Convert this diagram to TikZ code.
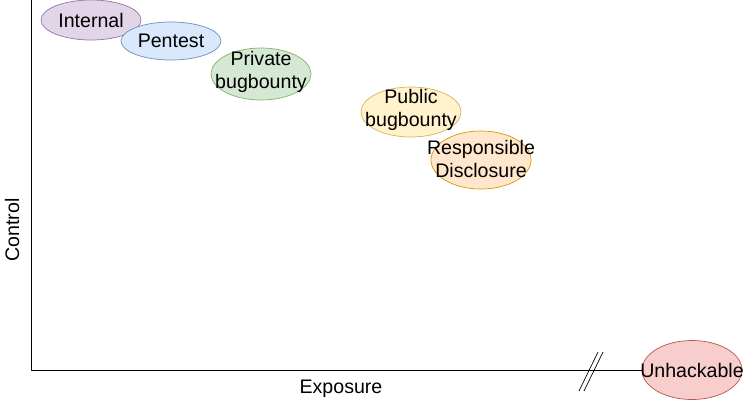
\documentclass[tikz,border=0pt]{standalone}
\usepackage{fontspec}
\setmainfont{Liberation Sans}
\usetikzlibrary{shapes.geometric}

\definecolor{intfill}{HTML}{E1D5E7}\definecolor{intline}{HTML}{9673A6}
\definecolor{penfill}{HTML}{DAE8FC}\definecolor{penline}{HTML}{6C8EBF}
\definecolor{privfill}{HTML}{D5E8D4}\definecolor{privline}{HTML}{82B366}
\definecolor{pubfill}{HTML}{FFF2CC}\definecolor{publine}{HTML}{D6B656}
\definecolor{respfill}{HTML}{FFE6CC}\definecolor{respline}{HTML}{D79B00}
\definecolor{unhfill}{HTML}{F8CECC}\definecolor{unhline}{HTML}{B85450}

\tikzset{
  blob/.style={ellipse, draw, line width=0.7pt, minimum width=100pt, inner sep=0pt},
  txt/.style={align=center, inner sep=0pt, font=\fontsize{19.6}{22.8}\selectfont}
}

\begin{document}
\begin{tikzpicture}[x=1pt, y=-1pt, line join=round]
\useasboundingbox (0,0) rectangle (744,402);

% axes
\coordinate (origin) at (31,370);
\coordinate (top) at (31,0);
\coordinate (right) at (692,370);
\draw[line width=0.8pt] (top) -- (origin) -- (right);

% axis break
\draw[line width=0.7pt] (579,391) -- (598,352);
\draw[line width=0.7pt] (584,391) -- (603,352);

\node (control) at (12,230) [txt, rotate=90] {Control};
\node (exposure) at (341,389) [txt] {Exposure};

% the programmes
\node (internal) at (91,20) [blob, fill=intfill, draw=intline, minimum height=40pt] {};
\node at (internal) [txt] {Internal};

\node (pentest) at (171,41) [blob, fill=penfill, draw=penline, minimum height=38pt] {};
\node at (pentest) [txt] {Pentest};

\node (private) at (261,74) [blob, fill=privfill, draw=privline, minimum height=52pt] {};
\node at ([yshift=2pt]private) [txt] {Private\\bugbounty};

\node (public) at (411,112) [blob, fill=pubfill, draw=publine, minimum height=50pt] {};
\node at ([yshift=2pt]public) [txt] {Public\\bugbounty};

\node (resp) at (481,160) [blob, fill=respfill, draw=respline, minimum height=58pt] {};
\node at ([yshift=1pt]resp) [txt] {Responsible\\Disclosure};

\node (unhack) at (692,370) [blob, fill=unhfill, draw=unhline, minimum height=59pt] {};
\node at (unhack) [txt] {Unhackable};

\end{tikzpicture}
\end{document}
